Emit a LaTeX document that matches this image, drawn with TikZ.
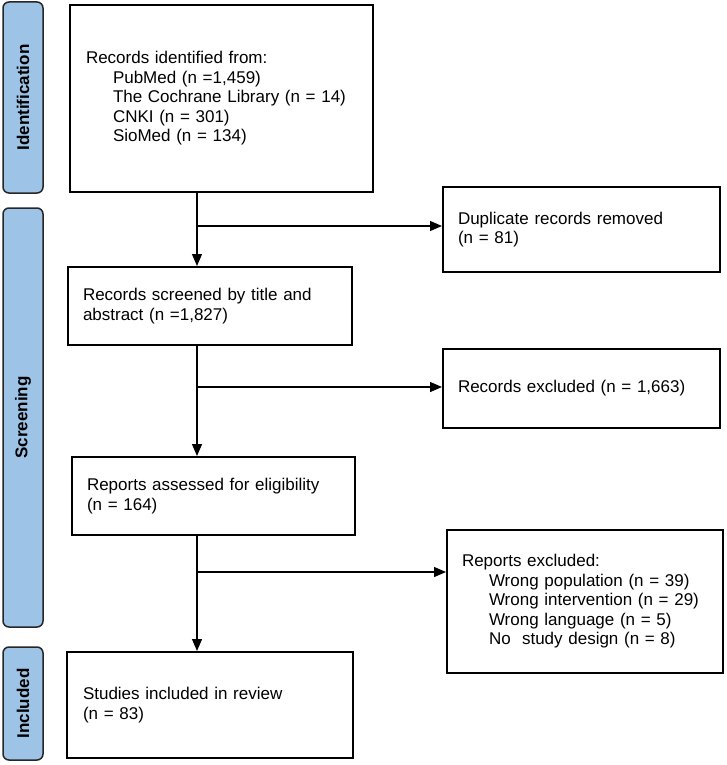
\documentclass[tikz,border=0pt]{standalone}
\usepackage{fontspec}
\setmainfont{Liberation Sans}
\usetikzlibrary{arrows.meta}
\definecolor{barblue}{RGB}{157,195,230}
\tikzset{
  box/.style={draw=black, line width=2pt, rectangle, align=left, inner xsep=15pt, inner ysep=0pt, font=\fontsize{17}{19.5}\selectfont},
  bar/.style={draw=black!85, line width=1.5pt, fill=barblue, rounded corners=6pt, rotate=90, inner sep=0pt, font=\fontsize{17}{20}\selectfont\bfseries},
  arr/.style={line width=1.3pt, -{Triangle[length=12pt,width=10pt]}},
  ln/.style={line width=1.3pt}
}
\newcommand{\ind}{\hspace*{27pt}}
\begin{document}
\begin{tikzpicture}[x=1pt,y=-1pt]
\useasboundingbox (0,0) rectangle (726,765);
% side bars
\node[bar, minimum width=191pt, minimum height=40pt] (idb) at (23,97.5) {Identification};
\node[bar, minimum width=419pt, minimum height=40pt] (scb) at (23,417.5) {Screening};
\node[bar, minimum width=113pt, minimum height=40pt] (inb) at (23,703.5) {Included};
% boxes
\node[box, text width=271pt, minimum height=187pt, inner xsep=16pt] (b1) at (221.5,98.5)
 {Records identified from:\\
  \ind PubMed (n =1,459)\\
  \ind The Cochrane Library (n = 14)\\
  \ind CNKI (n = 301)\\
  \ind SioMed (n = 134)};
\node[box, text width=247pt, minimum height=85pt] (dup) at (581.5,229.5)
 {Duplicate records removed\\(n = 81)};
\node[box, text width=254pt, minimum height=78pt] (scr) at (210,306)
 {Records screened by title and\\abstract (n =1,827)};
\node[box, text width=247pt, minimum height=79pt] (rex) at (581.5,388.5)
 {Records excluded (n = 1,663)};
\node[box, text width=253pt, minimum height=78pt] (rep) at (213.5,496)
 {Reports assessed for eligibility\\(n = 164)};
\node[box, text width=246pt, minimum height=143pt] (repex) at (585,601.5)
 {Reports excluded:\\
  \ind Wrong population (n = 39)\\
  \ind Wrong intervention (n = 29)\\
  \ind Wrong language (n = 5)\\
  \ind No\ \ study design (n = 8)};
\node[box, text width=254pt, minimum height=106pt, inner xsep=16pt] (inc) at (210,705)
 {Studies included in review\\(n = 83)};
% junctions
\coordinate (j1) at (197,226);
\coordinate (j2) at (197,387);
\coordinate (j3) at (197,572);
% connectors
\draw[arr] (b1.south -| j1) -- (scr.north -| j1);
\draw[arr] (j1) -- (j1 -| dup.west);
\draw[arr] (scr.south -| j2) -- (rep.north -| j2);
\draw[arr] (j2) -- (j2 -| rex.west);
\draw[arr] (rep.south -| j3) -- (inc.north -| j3);
\draw[arr] (j3) -- (j3 -| repex.west);
\end{tikzpicture}
\end{document}
